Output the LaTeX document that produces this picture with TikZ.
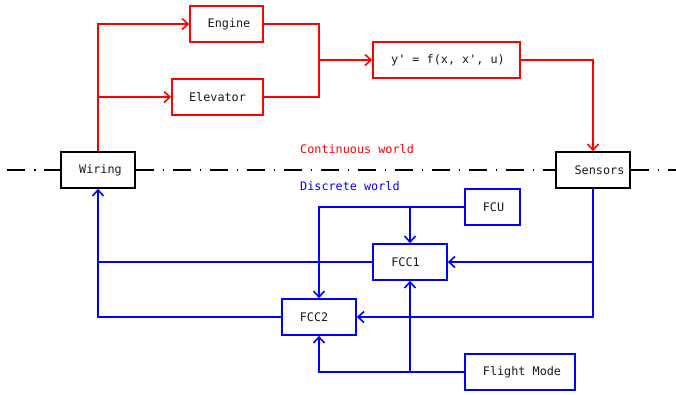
\documentclass[tikz,border=0pt]{standalone}
\usepackage{fontspec}
\setmonofont{DejaVu Sans Mono}
\usetikzlibrary{arrows.meta}
\begin{document}
\begin{tikzpicture}[x=1pt,y=-1pt,
  box/.style={draw=#1,line width=1.6pt,inner sep=0pt,minimum height=36pt,
    font=\ttfamily\fontsize{11.8}{13}\selectfont,text=black!90},
  tshift/.style={execute at begin node=\hspace*{#1pt}},
  wire/.style={draw=#1,line width=1.6pt},
  arr/.style={-{Straight Barb[length=6pt,width=11pt,line width=1.6pt]}},
  worldline/.style={draw=black,line width=1.6pt,dash pattern=on 18pt off 9pt on 1.5pt off 8.5pt},
  lbl/.style={font=\ttfamily\fontsize{11.8}{13}\selectfont,inner sep=0pt,anchor=west}]
\useasboundingbox (0,0) rectangle (676,394);
\definecolor{rd}{RGB}{255,0,0}
\definecolor{bl}{RGB}{0,0,255}
% boxes
\node[box=rd,minimum width=73pt,tshift=5] (engine) at (226.5,24) {Engine};
\node[box=rd,minimum width=91pt] (elev) at (217.5,97) {Elevator};
\node[box=rd,minimum width=147pt,tshift=3] (ode) at (446.5,60) {y' = f(x, x', u)};
\node[box=black,minimum width=74pt,tshift=5] (wiring) at (98,170) {Wiring};
\node[box=black,minimum width=74pt,tshift=13] (sensors) at (593,170) {Sensors};
\node[box=bl,minimum width=55pt,tshift=2] (fcu) at (492.5,207) {FCU};
\node[box=bl,minimum width=74pt,tshift=-9] (fcc1) at (410,262) {FCC1};
\node[box=bl,minimum width=74pt,tshift=-10] (fcc2) at (319,317) {FCC2};
\node[box=bl,minimum width=110pt,tshift=4] (fm) at (520,372) {Flight Mode};
% world labels
\node[lbl,text=rd] (cw) at (300,149) {Continuous world};
\node[lbl,text=bl] (dw) at (300,186) {Discrete world};
% world divider
\coordinate (ls) at (7,170);
\coordinate (le) at (676,170);
\draw[worldline] (ls) -- (wiring.west);
\draw[worldline] (wiring.east) -- (sensors.west);
\draw[worldline] (sensors.east) -- (le);
% red connectors
\draw[wire=rd,arr] (wiring.north) |- (engine.west);
\draw[wire=rd,arr] (wiring.north |- elev.west) -- (elev.west);
\coordinate (jr) at (319,60);
\draw[wire=rd] (engine.east) -| (jr |- elev.east) -- (elev.east);
\draw[wire=rd,arr] (jr |- ode.west) -- (ode.west);
\draw[wire=rd,arr] (ode.east) -| (sensors.north);
% blue connectors
\draw[wire=bl,arr] (sensors.south) |- (fcc2.east);
\draw[wire=bl,arr] (sensors.south |- fcc1.east) -- (fcc1.east);
\draw[wire=bl,arr] (fcu.west) -| (fcc2.north);
\draw[wire=bl,arr] (fcc1.north |- fcu.west) -- (fcc1.north);
\draw[wire=bl,arr] (fcc1.west) -| (wiring.south);
\draw[wire=bl] (fcc2.west) -| (wiring.south |- fcc1.west);
\draw[wire=bl,arr] (fm.west) -| (fcc2.south);
\draw[wire=bl,arr] (fcc1.south |- fm.west) -- (fcc1.south);
\end{tikzpicture}
\end{document}
